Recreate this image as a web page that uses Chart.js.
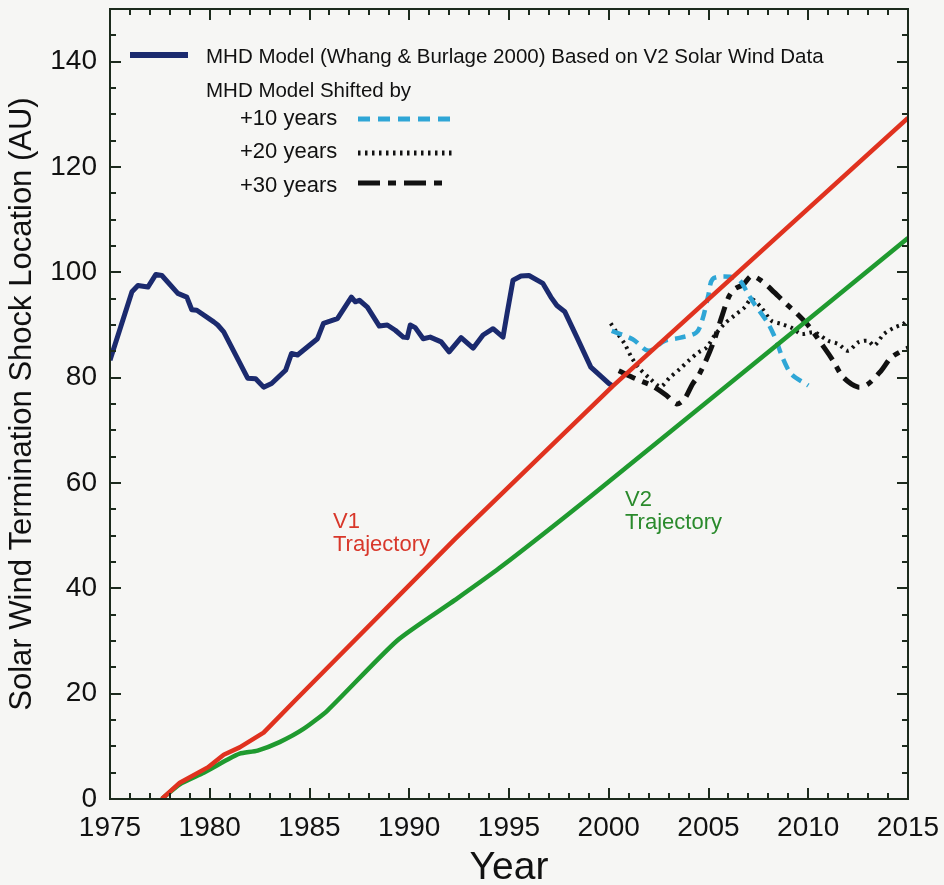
<!DOCTYPE html>
<html>
<head>
<meta charset="utf-8">
<script src="https://cdn.jsdelivr.net/npm/chart.js@4.4.1/dist/chart.umd.min.js"></script>
<style>
  html, body { margin: 0; padding: 0; background: #f6f6f4; }
  #wrap { width: 944px; height: 885px; }
</style>
</head>
<body>
<div id="wrap"><canvas id="myChart" width="944" height="885"></canvas></div>
<script>
// values (year, AU)
const mhdYears = [1975.0, 1976.1, 1976.4, 1976.9, 1977.3, 1977.6, 1978.4, 1978.85, 1979.1, 1979.35,
  1980.2, 1980.4, 1980.7, 1981.9, 1982.3, 1982.7, 1983.1, 1983.8, 1984.1, 1984.4,
  1985.4, 1985.7, 1986.4, 1987.1, 1987.3, 1987.5, 1987.9, 1988.5, 1988.9, 1989.3,
  1989.7, 1989.9, 1990.05, 1990.3, 1990.7, 1991.05, 1991.6, 1992.0, 1992.6, 1993.2,
  1993.7, 1994.2, 1994.7, 1994.9, 1995.2, 1995.6, 1996.0, 1996.7, 1997.1, 1997.4,
  1997.8, 1998.4, 1999.1, 1999.6, 2000.0, 2000.2];
const mhdAU = [83.3, 96.3, 97.5, 97.2, 99.6, 99.4, 96.0, 95.3, 92.9, 92.8,
  90.6, 90.0, 88.7, 79.9, 79.8, 78.2, 78.9, 81.4, 84.6, 84.3,
  87.4, 90.3, 91.2, 95.3, 94.4, 94.7, 93.4, 89.8, 90.0, 89.0,
  87.7, 87.6, 90.0, 89.5, 87.4, 87.7, 86.8, 84.9, 87.6, 85.6,
  88.1, 89.3, 87.7, 92.1, 98.5, 99.3, 99.4, 97.9, 95.3, 93.7,
  92.5, 87.7, 82.0, 80.3, 78.9, 78.4];

const shift10Years = [2000.15, 2001.2, 2002.0, 2002.8, 2003.6, 2004.4, 2004.7, 2005.0, 2005.2, 2005.8,
  2006.5, 2007.0, 2007.3, 2008.0, 2008.4, 2008.7, 2009.15, 2010.0];
const shift10AU = [88.9, 87.3, 85.1, 87.0, 87.6, 88.6, 91.1, 95.8, 98.7, 99.2,
  98.7, 95.8, 94.0, 90.2, 87.0, 83.9, 80.7, 78.5];

const shift20Years = [2000.1, 2000.4, 2000.8, 2001.15, 2001.5, 2002.1, 2002.6, 2003.05, 2003.55, 2004.0,
  2004.5, 2004.9, 2005.3, 2005.8, 2006.3, 2006.8, 2007.15, 2007.65, 2008.15, 2008.65,
  2009.15, 2009.65, 2010.3, 2011.0, 2011.5, 2012.0, 2012.5, 2013.0, 2013.3, 2013.8,
  2014.3, 2014.75, 2015.0];
const shift20AU = [90.3, 88.6, 86.4, 83.8, 81.9, 79.7, 78.3, 80.0, 81.6, 83.2,
  84.8, 85.7, 88.0, 90.2, 91.8, 93.3, 94.9, 93.3, 90.8, 90.2,
  89.5, 88.3, 88.6, 87.0, 86.4, 85.1, 86.7, 87.0, 86.1, 88.3,
  89.5, 90.2, 91.0];

const shift30Years = [2000.5, 2001.4, 2002.15, 2002.9, 2003.4, 2003.8, 2004.2, 2004.5, 2004.9, 2005.3,
  2005.65, 2006.0, 2006.3, 2006.75, 2007.15, 2007.65, 2008.3, 2008.9, 2009.45, 2010.0,
  2010.8, 2011.25, 2011.75, 2012.5, 2013.0, 2013.65, 2014.15, 2014.75, 2015.0];
const shift30AU = [81.3, 79.7, 78.5, 76.6, 75.0, 76.0, 78.8, 80.4, 83.5, 87.3,
  91.4, 95.2, 96.8, 97.7, 99.3, 98.4, 96.2, 94.0, 92.1, 89.9,
  85.7, 83.2, 80.1, 78.2, 78.8, 81.3, 83.8, 85.2, 85.6];

const v1Years = [1977.6, 1978.5, 1979.9, 1980.7, 1981.5, 1982.7, 1984.3, 1992.3, 2000.2, 2015.0];
const v1AU = [0, 3.1, 6.0, 8.4, 9.8, 12.6, 18.8, 49.4, 78.4, 129.3];

const v2Years = [1977.6, 1978.5, 1979.7, 1980.9, 1981.5, 1982.4, 1983.5, 1984.7, 1985.9, 1989.4,
  1992.3, 1994.5, 1999.1, 2007.0, 2015.0];
const v2AU = [0, 2.8, 5.0, 7.5, 8.6, 9.2, 10.8, 13.3, 16.8, 30.1,
  37.8, 43.8, 57.5, 81.8, 106.5];

const yTickLabels = [0, 20, 40, 60, 80, 100, 120, 140];

const FONT = "'Liberation Sans', Arial, Helvetica, sans-serif";

function pts(xs, ys) {
  return xs.map((x, i) => ({ x: x, y: ys[i] }));
}

// frame + inward tick marks on all four sides
const framePlugin = {
  id: "frame",
  afterDatasetsDraw(chart) {
    const { ctx, chartArea: a, scales } = chart;
    ctx.save();
    ctx.strokeStyle = "#1c2a1c";
    ctx.lineWidth = 2;
    ctx.strokeRect(a.left, a.top, a.right - a.left, a.bottom - a.top);
    ctx.beginPath();
    for (let yr = 1975; yr <= 2015; yr++) {
      const px = Math.round(scales.x.getPixelForValue(yr));
      const len = yr % 5 === 0 ? 11 : 6;
      ctx.moveTo(px, a.bottom); ctx.lineTo(px, a.bottom - len);
      ctx.moveTo(px, a.top); ctx.lineTo(px, a.top + len);
    }
    for (let v = 0; v <= 150; v += 5) {
      const py = Math.round(scales.y.getPixelForValue(v));
      const len = v % 20 === 0 ? 11 : 6;
      ctx.moveTo(a.left, py); ctx.lineTo(a.left + len, py);
      ctx.moveTo(a.right, py); ctx.lineTo(a.right - len, py);
    }
    ctx.stroke();
    ctx.restore();
  },
  afterDraw(chart) {
    const ctx = chart.ctx;
    ctx.save();
    ctx.textBaseline = "alphabetic";
    ctx.textAlign = "left";

    // trajectory labels
    ctx.font = "22px " + FONT;
    ctx.fillStyle = "#d8372a";
    ctx.fillText("V1", 333, 528);
    ctx.fillText("Trajectory", 333, 551);
    ctx.fillStyle = "#2a8a2c";
    ctx.fillText("V2", 625, 506);
    ctx.fillText("Trajectory", 625, 529);

    // legend
    ctx.font = "20.5px " + FONT;
    ctx.fillStyle = "#111";
    ctx.fillText("MHD Model (Whang & Burlage 2000) Based on V2 Solar Wind Data", 206, 63);
    ctx.fillText("MHD Model Shifted by", 206, 97);
    ctx.font = "22px " + FONT;
    ctx.fillText("+10 years", 240, 125);
    ctx.fillText("+20 years", 240, 158);
    ctx.fillText("+30 years", 240, 192);

    const seg = (x1, x2, y, color, w, dash) => {
      ctx.beginPath();
      ctx.strokeStyle = color;
      ctx.lineWidth = w;
      ctx.lineCap = "butt";
      ctx.setLineDash(dash);
      ctx.moveTo(x1, y); ctx.lineTo(x2, y);
      ctx.stroke();
    };
    seg(130, 188, 55, "#1b2a6e", 6, []);
    seg(358, 458, 119, "#2fa6d6", 5, [12, 8]);
    seg(358, 452, 153, "#111", 5, [2.5, 4.5]);
    seg(358, 450, 183, "#111", 5, [22, 8, 8, 8]);
    ctx.restore();
  }
};

const ctx = document.getElementById("myChart");

new Chart(ctx, {
  type: "line",
  data: {
    datasets: [
      { label: "V1 Trajectory", data: pts(v1Years, v1AU), borderColor: "#e0321f", borderWidth: 4.5, tension: 0 },
      { label: "V2 Trajectory", data: pts(v2Years, v2AU), borderColor: "#1f9a2f", borderWidth: 4.5, tension: 0.2 },
      { label: "MHD Model", data: pts(mhdYears, mhdAU), borderColor: "#1b2a6e", borderWidth: 5, tension: 0 },
      { label: "+10 years", data: pts(shift10Years, shift10AU), borderColor: "#2fa6d6", borderWidth: 4.5, borderDash: [11, 7], tension: 0.3 },
      { label: "+20 years", data: pts(shift20Years, shift20AU), borderColor: "#111", borderWidth: 4, borderDash: [2.5, 4.5], tension: 0.3 },
      { label: "+30 years", data: pts(shift30Years, shift30AU), borderColor: "#111", borderWidth: 5, borderDash: [18, 8, 6, 8], tension: 0.3 },
    ],
  },
  options: {
    responsive: false,
    animation: false,
    elements: { point: { radius: 0 }, line: { borderCapStyle: "butt", borderJoinStyle: "round" } },
    layout: { padding: { left: 0, right: 36, top: 9, bottom: 0 } },
    plugins: { legend: { display: false }, tooltip: { enabled: false } },
    scales: {
      x: {
        type: "linear",
        min: 1975,
        max: 2015,
        grid: { display: false, drawTicks: false },
        border: { display: false },
        ticks: {
          stepSize: 5,
          padding: 12,
          color: "#111",
          font: { family: FONT, size: 28 },
          maxRotation: 0,
          callback: (v) => String(v),
        },
        title: { display: true, text: "Year", color: "#111", font: { family: FONT, size: 39, lineHeight: 0.85 }, padding: { top: 0, bottom: 0 } },
        afterFit: (s) => {
          s.height = 86;
          s.paddingLeft = 0;
          s.paddingRight = 0;
        },
      },
      y: {
        min: 0,
        max: 150,
        grid: { display: false, drawTicks: false },
        border: { display: false },
        afterBuildTicks: (s) => { s.ticks = yTickLabels.map((v) => ({ value: v })); },
        ticks: {
          padding: 13,
          color: "#111",
          font: { family: FONT, size: 28 },
          callback: (v) => String(v),
        },
        title: { display: true, text: "Solar Wind Termination Shock Location (AU)", color: "#111", font: { family: FONT, size: 31 }, padding: { top: 4, bottom: 0 } },
        afterFit: (s) => {
          s.width = 110;
          s.paddingTop = 0;
          s.paddingBottom = 0;
        },
      },
    },
  },
  plugins: [framePlugin],
});
</script>
</body>
</html>
